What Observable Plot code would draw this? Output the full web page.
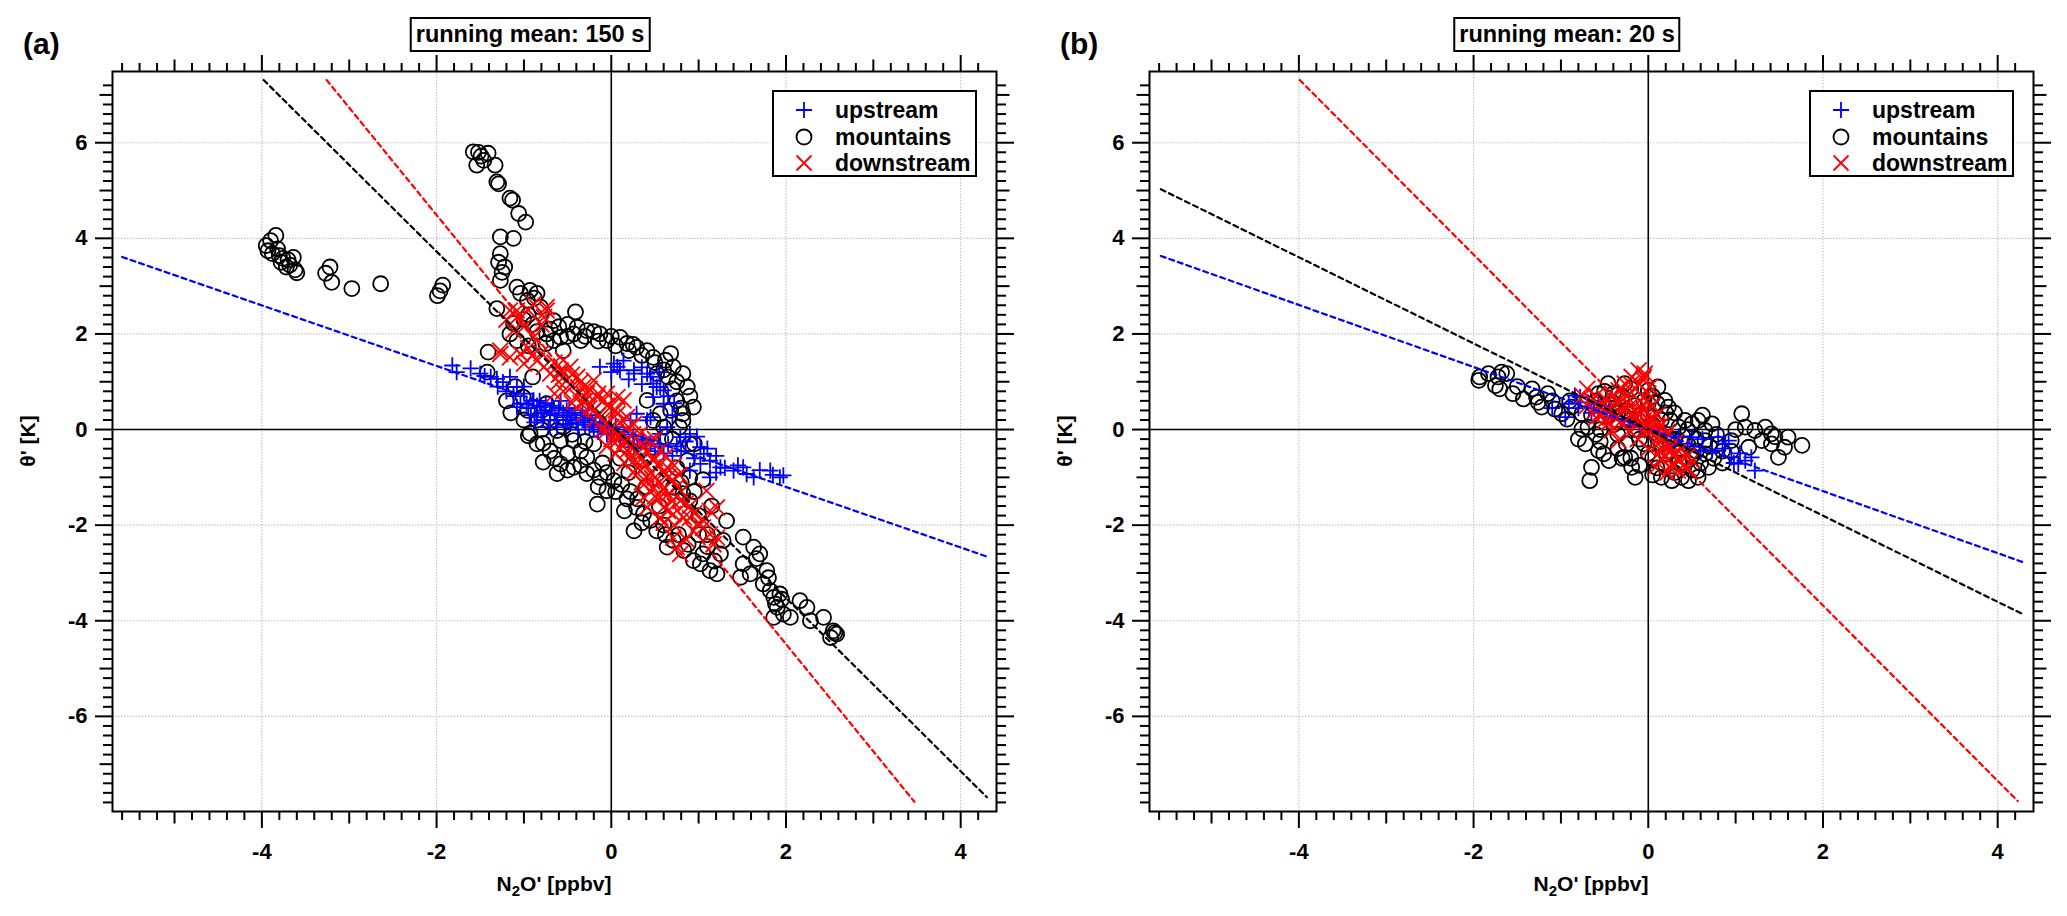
<!DOCTYPE html>
<html>
<head>
<meta charset="utf-8">
<script src="https://cdn.jsdelivr.net/npm/d3@7"></script>
<script src="https://cdn.jsdelivr.net/npm/@observablehq/plot@0.6"></script>
<style>
  body { margin: 0; background: white; }
  #wrap { position: relative; width: 2067px; height: 916px; font-family: "Liberation Sans", Arial, sans-serif; font-weight: bold; color: black; }
  .abs { position: absolute; }
  .panel { position: absolute; top: 0; }
  .tag { font-size: 30px; line-height: 30px; }
  .title { font-size: 23.5px; line-height: 31px; border: 2px solid black; padding: 0 4px; background: white; transform: translateX(-50%); white-space: nowrap; }
  .xlab { font-size: 21px; transform: translateX(-50%); white-space: nowrap; }
  .ylab { font-size: 21px; transform: translate(-50%, -50%) rotate(-90deg); white-space: nowrap; }
  .legend { border: 2px solid black; background: white; width: 201px; height: 83px; }
  .legend .row { position: absolute; left: 0; height: 26px; width: 200px; font-size: 23px; line-height: 26px; }
  .legend svg { position: absolute; left: 17px; top: 3px; }
  .legend span { position: absolute; left: 61px; }
</style>
</head>
<body>
<div id="wrap"></div>
<script>
// panel (a): running mean 150 s
const aUp = [
  [-1.82,1.34],[-1.77,1.2],[-1.61,1.28],[-1.5,1.17],[-1.45,1.12],[-1.38,1.1],[-1.31,1.06],[-1.24,0.99],[-1.16,1.1],[-1.08,0.89],
  [-1.0,0.75],[-1.04,0.54],[-1.08,0.47],[-0.89,0.61],[-0.81,0.47],[-0.85,0.26],[-0.7,0.33],[-0.55,0.26],[-0.62,0.05],[-0.47,0.12],
  [-0.97,0.54],[-0.77,0.4],[-0.7,0.19],[-0.51,0.4],[-0.32,0.19],[-0.13,0.05],
  [-0.9,0.6],[-0.85,0.5],[-0.8,0.35],[-0.75,0.55],[-0.7,0.4],[-0.65,0.3],[-0.6,0.45],[-0.55,0.35],[-0.5,0.2],[-0.45,0.3],
  [-0.4,0.15],[-0.35,0.25],[-0.3,0.1],[-0.25,0.05],[-0.2,0.0],[-0.15,-0.05],[0.0,-0.1],[0.1,-0.2],[0.2,-0.3],[0.3,-0.35],
  [0.4,-0.4],[0.5,-0.45],[0.6,-0.5],[0.7,-0.55],
  [-0.95,0.45],[-0.92,0.3],[-0.88,0.15],[-0.82,0.6],[-0.78,0.2],[-0.72,0.05],[-0.68,0.5],[-0.62,0.2],[-0.58,0.6],[-0.52,0.1],
  [-0.48,0.45],[-0.42,0.35],[-0.38,0.0],[-0.33,0.4],[-0.27,0.3],[-0.22,0.15],[-0.18,0.25],[-0.1,0.1],[-0.05,0.0],[0.05,0.05],
  [0.15,-0.1],[0.25,-0.15],[0.35,-0.2],[0.45,-0.3],[0.55,-0.35],[0.65,-0.3],[0.75,-0.35],[0.85,-0.25],
  [-1.2,0.8],[-1.3,0.9],[-1.12,0.7],[-1.0,0.9],
  [-0.13,1.31],[0.03,1.38],[0.14,1.44],[0.1,1.24],[0.26,1.17],[0.41,1.17],[0.48,0.96],[0.56,0.89],[0.6,0.82],[0.48,0.68],
  [0.29,0.33],[0.41,0.19],[0.22,0.19],[0.1,-0.23],[-0.05,-0.09],[0.07,1.31],[0.26,1.24],[0.45,1.1],[0.52,0.89],[0.6,0.54],
  [0.45,0.26],[0.56,-0.09],[0.37,-0.23],[-0.01,-0.09],[0.26,-0.37],
  [0.7,0.3],[0.72,0.55],[0.65,0.7],[0.35,0.95],[0.2,1.05],[0.0,1.2],[0.35,1.3],[0.55,1.2],
  [0.64,0.05],[0.79,-0.16],[0.9,-0.09],[1.02,-0.37],[1.06,-0.51],[1.02,-0.72],[1.13,-0.65],[1.25,-0.79],[0.9,-0.86],[1.13,-1.0],
  [1.51,-0.79],[1.55,-0.93],[1.63,-1.0],[1.82,-0.86],[1.93,-1.0],[1.97,-0.96],[1.4,-0.86],[0.95,-0.6],[1.2,-0.9],[0.8,-0.45],
  [1.1,-0.4],[1.2,-0.55],[0.98,-0.15],[1.3,-0.8],[1.45,-0.75],[1.7,-0.85],[1.85,-0.95]
];
const aMnt = [
  [-3.95,3.85],[-3.9,3.95],[-3.84,4.06],[-3.93,3.74],[-3.88,3.68],[-3.8,3.64],[-3.76,3.58],[-3.7,3.55],[-3.78,3.5],[-3.68,3.44],
  [-3.64,3.6],[-3.72,3.4],[-3.62,3.34],[-3.6,3.28],[-3.82,3.78],
  [-3.27,3.27],[-3.22,3.4],[-3.2,3.08],[-2.97,2.95],[-2.64,3.05],[-1.99,2.8],[-1.96,2.9],[-1.93,3.02],
  [-1.58,5.81],[-1.52,5.8],[-1.41,5.78],[-1.54,5.53],[-1.46,5.63],[-1.49,5.72],[-1.33,5.53],[-1.31,5.18],[-1.29,5.14],[-1.16,4.84],
  [-1.13,4.8],[-1.06,4.52],[-0.98,4.34],[-1.27,4.03],[-1.12,4.0],[-1.27,3.68],[-1.29,3.5],[-1.25,3.29],[-1.27,3.12],[-1.22,3.4],
  [-1.31,2.53],[-1.08,2.98],[-0.93,2.91],[-0.85,2.85],[-1.04,2.85],[-0.96,2.7],[-0.88,2.75],
  [-0.81,2.56],[-0.74,2.0],[-0.66,2.28],[-0.58,1.93],[-0.41,2.46],[-0.39,2.14],[-0.28,2.07],[-0.13,2.0],[-0.05,1.86],[0.1,1.93],
  [0.18,1.8],[0.29,1.72],[0.41,1.65],[0.48,1.51],[0.68,1.59],[0.71,1.31],[0.82,1.17],[0.87,0.89],[0.94,0.47],[0.82,0.33],
  [0.52,1.17],[0.56,0.33],[0.48,0.19],[0.41,0.61],[-0.43,2.0],[-0.35,1.86],[-0.55,1.65],[-0.66,1.86],[0.0,1.95],[0.25,1.78],
  [0.62,1.45],[0.75,1.0],[0.9,0.7],[-0.2,2.05],[-0.5,1.95],
  [-0.7,2.1],[-0.6,2.15],[-0.5,2.2],[-0.3,1.95],[-0.15,1.85],[0.05,1.75],[0.2,1.65],[0.35,1.55],[0.5,1.4],[0.6,1.25],
  [0.65,1.1],[0.7,0.85],[0.75,0.6],[0.8,0.45],[0.68,0.4],[-0.9,2.2],[-0.95,2.4],[-1.0,2.3],[-0.85,2.05],[-0.75,1.8],[-0.95,1.75],
  [-1.41,1.62],[-1.42,1.2],[-1.16,2.0],[-1.12,2.22],[-1.08,1.86],[-1.01,0.68],[-0.96,0.4],[-0.74,0.54],[-0.93,-0.08],[-0.62,-0.02],
  [-0.58,-0.23],[-1.1,0.9],[-0.9,1.1],[-0.85,0.2],
  [-1.2,0.6],[-1.15,0.35],[-1.0,0.2],[-0.8,0.0],[-0.7,0.15],[-0.55,0.05],[-0.45,-0.1],[-0.3,-0.25],
  [-0.95,-0.13],[-0.78,-0.29],[-0.78,-0.68],[-0.62,-0.92],[-0.58,-0.72],[-0.43,-0.23],[-0.43,-0.79],[-0.28,-0.58],[-0.28,-0.92],[-0.16,-1.56],
  [-0.05,-1.28],[-0.13,-1.0],[0.03,-1.07],[0.18,-1.45],[0.29,-1.63],[0.26,-2.12],[0.37,-1.76],[0.52,-2.12],[0.64,-2.46],[0.71,-2.32],
  [0.83,-2.53],[0.94,-2.74],[1.02,-2.81],[1.13,-2.95],[1.21,-3.02],[1.25,-2.6],[1.28,-2.32],[1.32,-1.91],[0.9,-1.49],[0.82,-1.34],
  [0.71,-1.21],[0.87,-0.65],[0.48,-0.37],[0.6,0.05],[0.82,0.19],[0.7,-0.2],[0.95,-0.3],[0.9,-1.0],[0.75,-0.8],[0.1,-0.6],
  [0.2,-0.9],[-0.2,-0.3],[-0.1,-0.7],[0.4,-1.2],[0.55,-1.6],[1.0,-1.8],[1.1,-2.2],
  [-0.85,-0.3],[-0.7,-0.45],[-0.65,-0.6],[-0.5,-0.5],[-0.5,-0.85],[-0.35,-0.45],[-0.35,-0.75],[-0.2,-0.85],[-0.15,-1.2],[-0.05,-0.9],
  [0.05,-1.3],[0.12,-1.15],[0.22,-1.3],[0.3,-1.45],[0.15,-1.7],[0.35,-1.95],[0.45,-1.9],[0.6,-2.0],[0.62,-2.2],[0.77,-2.2],
  [0.88,-2.4],[1.05,-2.6],[1.18,-2.75],[1.1,-2.45],[1.0,-2.2],[1.15,-1.6],[0.95,-1.3],[1.05,-1.05],[0.8,-1.1],[0.9,-0.3],
  [0.78,0.05],[0.62,-0.15],
  [1.51,-2.25],[1.63,-2.46],[1.7,-2.6],[1.51,-2.81],[1.59,-3.02],[1.48,-3.09],[1.74,-3.23],[1.78,-2.95],[1.82,-3.37],[1.86,-3.51],
  [1.93,-3.44],[1.9,-3.72],[1.97,-3.86],[1.86,-3.93],[2.05,-3.93],[2.16,-3.58],[2.24,-3.72],[2.28,-4.0],[2.43,-3.93],[2.54,-4.21],
  [2.58,-4.28],[2.56,-4.25],[2.51,-4.35],[1.88,-3.65],[1.95,-3.55],[1.8,-3.1],[1.66,-2.7]
];
const aDown = [
  [-1.16,2.49],[-1.08,2.35],[-0.89,2.63],[-0.74,2.56],[-0.77,2.35],[-1.12,2.07],[-0.89,1.93],[-1.27,1.65],[-1.16,1.51],[-1.04,1.58],
  [-1.0,1.38],[-0.85,1.44],[-0.77,1.31],[-0.7,1.17],[-0.58,1.24],[-0.47,1.31],[-0.51,1.03],[-0.39,1.1],[-0.32,0.89],[-0.28,0.75],
  [-0.16,0.68],[-0.09,0.61],[-0.01,0.47],[0.07,0.33],[0.14,0.61],[0.18,0.26],[0.26,0.12],[0.33,-0.09],[0.45,-0.23],[0.56,-0.44],
  [-1.08,2.49],[-0.74,2.49],[-1.27,1.58],[-1.04,1.58],[-0.58,1.17],[-0.2,1.03],[-0.05,0.75],[0.07,0.68],
  [-0.05,-0.02],[0.07,-0.23],[0.18,-0.44],[0.26,-0.65],[0.33,-0.86],[0.41,-1.0],[0.48,-1.21],[0.56,-1.42],[0.6,-1.63],[0.56,-1.84],
  [0.71,-1.77],[0.37,-1.42],[0.41,-1.63],[0.64,-0.79],[0.48,-0.65],[0.79,-1.49],[0.83,-1.84],[1.09,-1.28],[1.13,-1.7],[1.21,-1.63],
  [1.06,-1.91],[1.13,-2.19],[1.21,-2.26],[1.17,-2.4],[0.94,-2.12],[0.75,-2.46],[0.79,-2.6],[0.71,-2.26],[0.86,-2.3],
  [-0.6,1.0],[-0.55,0.8],[-0.45,0.9],[-0.4,0.7],[-0.35,0.55],[-0.3,0.6],[-0.25,0.45],[-0.2,0.4],[-0.15,0.3],[-0.1,0.2],
  [-0.05,0.15],[0.0,0.05],[0.05,-0.05],[0.1,-0.1],[0.15,-0.25],[0.2,-0.2],[0.25,-0.4],[0.3,-0.5],[0.35,-0.6],[0.4,-0.75],
  [0.45,-0.9],[0.5,-1.0],[0.55,-1.1],[0.6,-1.25],[0.65,-1.35],[0.7,-1.5],[0.3,-0.8],[0.4,-1.1],[0.5,-1.4],[0.2,-0.6],
  [0.1,-0.4],[0.0,-0.2],[-0.1,0.0],[-0.2,0.2],[-0.3,0.35],[-0.45,0.55],[-0.65,0.75],[0.65,-1.0],[0.75,-1.2],[0.9,-1.6],
  [-1.2,2.3],[-1.0,2.15],[-0.95,2.5],[-0.8,2.2],[-0.95,1.7],[-0.9,1.55],[-0.8,1.6],[-0.65,1.4],[-0.55,1.45],[-0.6,1.15],
  [-0.45,1.15],[-0.35,1.0],[-0.25,0.85],[-0.15,0.75],[-0.05,0.5],[0.05,0.4],[0.1,0.15],[0.2,0.05],[0.25,-0.1],[0.35,-0.3],
  [0.4,-0.45],[0.5,-0.6],[0.55,-0.75],[0.6,-0.9],[0.7,-1.05],[0.8,-1.3],[0.85,-1.55],[0.95,-1.75],[1.0,-1.95],[1.05,-2.05],
  [0.9,-1.85],[0.65,-1.7],[0.6,-1.95],[0.72,-2.0],[0.45,-1.3],[0.35,-1.1],[0.25,-0.9],[0.15,-0.7],[0.05,-0.5],[-0.05,-0.35],
  [0.5,-0.2],[0.62,-0.55],[0.72,-0.75],[0.78,-0.95]
];
// fitted lines: slope, intercept, x start, x end
const aFitUp = [-0.633, 0.065, -5.6, 4.33];
const aFitMnt = [-1.812, 0.10, -3.98, 4.30];
const aFitDown = [-2.244, 0.0, -3.26, 3.47];

// panel (b): running mean 20 s
const bUp = [
  [-0.84,0.71],[-0.78,0.68],[-0.91,0.54],[-0.69,0.57],[-0.95,0.26],[-0.57,0.54],[-0.42,0.26],[-0.62,0.45],[-0.5,0.35],[-0.3,0.2],
  [-0.2,0.1],[-0.1,0.05],[0.05,-0.05],[0.2,-0.1],[0.35,-0.15],[0.5,-0.16],[0.62,-0.2],[0.8,-0.16],[0.88,-0.3],[0.95,-0.58],
  [1.03,-0.72],[1.11,-0.65],[1.18,-0.58],[1.22,-0.86],[0.92,-0.23],[0.98,-0.7],[0.73,-0.44],[0.85,-0.4],[1.05,-0.5],[-1.1,0.45],
  [-0.8,0.45],[-0.65,0.35],[-0.45,0.5],[0.3,-0.3],[0.45,-0.35],[0.6,-0.45]
];
const bMnt = [
  [-1.93,1.1],[-1.83,1.17],[-1.72,1.1],[-1.68,1.2],[-1.62,1.17],[-1.75,0.92],[-1.7,0.85],[-1.94,1.03],[-1.43,0.64],[-1.28,0.68],
  [-1.26,0.57],[-1.22,0.47],[-1.33,0.85],[-1.07,0.43],[-0.99,0.33],[-0.93,0.22],[-0.88,0.47],[-0.76,0.33],[-0.76,0.01],[-0.69,0.05],
  [-0.72,-0.3],[-0.65,-0.79],[-0.67,-1.07],[-0.57,-0.44],[-0.51,-0.51],[-0.46,0.96],[-0.57,0.75],[-0.27,0.96],[-0.27,-0.58],[-0.19,-0.79],
  [-0.1,-0.75],[0.0,0.82],[0.11,0.89],[0.19,0.61],[0.23,0.47],[0.27,-1.07],[0.38,-1.0],[0.46,-1.07],[0.42,0.19],[0.5,0.12],
  [0.57,0.19],[0.65,-0.02],[0.73,0.12],[0.65,-0.23],[0.65,-0.51],[0.69,-0.79],[0.57,-0.86],[0.57,-1.0],[0.8,-0.3],[0.95,-0.23],
  [1.07,0.33],[1.11,0.05],[1.15,-0.37],[1.22,-0.02],[1.3,-0.23],[1.34,0.05],[1.41,-0.09],[1.45,-0.15],[1.49,-0.58],[1.6,-0.16],
  [1.56,-0.37],[1.76,-0.33],[1.41,-0.3],
  [-0.6,0.6],[-0.5,0.5],[-0.45,0.3],[-0.4,0.1],[-0.35,-0.1],[-0.3,0.7],[-0.25,0.4],[-0.2,0.2],[-0.15,0.0],[-0.1,-0.2],
  [-0.05,0.6],[0.0,0.3],[0.05,0.1],[0.1,-0.1],[0.15,-0.3],[0.2,-0.5],[0.25,0.2],[0.3,-0.2],[0.35,-0.45],[0.4,-0.7],
  [0.45,-0.3],[0.5,-0.55],[0.55,-0.2],[-0.35,-0.4],[-0.2,-0.6],[0.0,-0.5],[0.1,-0.8],[0.3,-0.9],[-0.55,0.0],[-0.4,0.55],
  [0.05,0.7],[0.2,0.35],[0.35,0.05],[0.75,-0.6],[0.85,-0.45],
  [-0.65,0.3],[-0.6,-0.1],[-0.55,-0.25],[-0.5,0.8],[-0.45,-0.65],[-0.4,0.75],[-0.35,0.35],[-0.3,-0.6],[-0.25,-0.3],[-0.2,0.85],
  [-0.15,0.5],[-0.1,0.3],[-0.05,-0.3],[0.0,0.55],[0.05,-0.6],[0.1,0.55],[0.15,0.2],[0.2,-0.75],[0.25,-0.25],[0.3,0.35],
  [0.35,-0.7],[0.4,-0.15],[0.45,0.0],[0.5,-0.85],[0.55,-0.45],[0.6,-0.7],[0.62,0.3],[0.7,-0.35],[0.78,-0.1],[0.85,-0.7],
  [0.95,-0.45],[1.0,0.0],[-0.8,-0.2],[-0.9,0.6],[-1.1,0.6],[-1.15,0.75],[-1.5,0.9],[-1.55,0.75],[-0.15,-1.0],[0.05,-0.95],[0.15,-1.0]
];
const bDown = [
  [-0.11,1.24],[-0.04,1.17],[-0.19,1.1],[-0.06,1.05],[-0.27,0.96],[-0.34,0.82],[-0.42,0.68],[-0.65,0.61],[-0.61,0.4],[-0.5,0.19],
  [-0.42,-0.02],[-0.34,-0.23],[-0.55,0.5],[-0.45,0.45],[-0.35,0.6],[-0.3,0.4],[-0.25,0.7],[-0.2,0.5],[-0.15,0.85],[-0.1,0.6],
  [-0.05,0.4],[0.0,0.75],[0.0,0.2],[0.04,-0.02],[0.05,0.5],[0.1,0.3],[0.11,-0.3],[0.15,0.1],[0.19,-0.58],[0.2,-0.15],
  [0.25,-0.35],[0.27,-0.72],[0.3,-0.5],[0.34,-0.86],[0.42,-0.79],[0.5,-0.65],[0.08,-0.79],[0.38,-0.4],[0.45,-0.55],[-0.25,0.2],
  [-0.15,0.25],[-0.05,0.0],[0.1,-0.05],[-0.2,-0.05],[-0.3,0.1],[-0.4,0.3],[-0.55,0.3],[-0.7,0.5],[-0.75,0.7],[-0.1,0.95],
  [0.15,-0.45],[0.22,-0.9],[0.0,-0.4],[-0.12,-0.2],
  [-0.7,0.85],[-0.6,0.7],[-0.5,0.65],[-0.45,0.15],[-0.4,0.5],[-0.35,0.25],[-0.3,0.85],[-0.25,0.55],[-0.2,0.3],[-0.15,0.1],
  [-0.1,0.4],[-0.05,0.2],[0.0,0.0],[0.05,0.25],[0.1,0.1],[0.12,-0.15],[0.18,-0.35],[0.22,-0.05],[0.28,-0.55],[0.32,-0.25],
  [0.36,-0.65],[0.4,-0.55],[0.45,-0.8],[-0.2,0.95],[-0.05,1.1],[0.02,0.9],[-0.02,0.6],[-0.5,0.35],[-0.6,0.25],[0.15,-0.6],[0.25,-0.8]
];
const bFitUp = [-0.649, 0.01, -5.58, 4.30];
const bFitMnt = [-0.901, 0.0, -5.58, 4.28];
const bFitDown = [-1.835, -0.01, -3.99, 4.23];

const seriesNames = ["upstream", "mountains", "downstream"];
const seriesColors = ["#0000ff", "#000000", "#ff0000"];
const titles = ["running mean: 150 s", "running mean: 20 s"];
const tags = ["(a)", "(b)"];

const xMajor = [-4, -2, 0, 2, 4];
const xMedium = [-5, -3, -1, 1, 3];
const xMinor = d3.range(-28, 22).map(i => i / 5).filter(v => !Number.isInteger(v));
const yMajor = [-6, -4, -2, 0, 2, 4, 6];
const yMedium = [-7, -5, -3, -1, 1, 3, 5, 7];
const yMinor = d3.range(-39, 37).map(i => i / 5).filter(v => !Number.isInteger(v));
const xGrid = [-4, -2, 2, 4];
const yGrid = [-6, -4, -2, 2, 4, 6];

function fitLine(f) {
  return [{x: f[2], y: f[1] + f[0] * f[2]}, {x: f[3], y: f[1] + f[0] * f[3]}];
}

function axes(anchor, major, medium, minor, labels) {
  const ax = anchor == "bottom" || anchor == "top" ? Plot.axisX : Plot.axisY;
  const none = () => "";
  return [
    ax(minor, {anchor, tickSize: 9, tickFormat: none, label: null, strokeWidth: 2}),
    ax(medium, {anchor, tickSize: 12.5, tickFormat: none, label: null, strokeWidth: 2}),
    ax(major, {
      anchor, tickSize: 17, label: null, strokeWidth: 2,
      tickPadding: anchor == "bottom" ? 15 : 8,
      tickFormat: labels ? d => String(d) : none,
      fontSize: 22, fontWeight: "bold"
    })
  ];
}

function panel(up, mnt, down, fits, width, marginLeft, marginRight) {
  return Plot.plot({
    width: width,
    height: 916,
    marginLeft: marginLeft,
    marginRight: marginRight,
    marginTop: 71,
    marginBottom: 105,
    x: {domain: [-5.71, 4.41]},
    y: {domain: [-7.99, 7.49]},
    style: {fontFamily: "Liberation Sans, Arial, sans-serif", fontWeight: "bold", fontSize: "22px", background: "none", overflow: "visible"},
    marks: [
      Plot.gridX(xGrid, {stroke: "#c4c4c4", strokeOpacity: 1, strokeDasharray: "1.5,1.5", strokeWidth: 1.2}),
      Plot.gridY(yGrid, {stroke: "#c4c4c4", strokeOpacity: 1, strokeDasharray: "1.5,1.5", strokeWidth: 1.2}),
      Plot.ruleX([0], {stroke: "black", strokeWidth: 1.6}),
      Plot.ruleY([0], {stroke: "black", strokeWidth: 1.6}),
      Plot.dot(mnt, {x: d => d[0], y: d => d[1], symbol: "circle", r: 7.5, fill: "none", stroke: seriesColors[1], strokeWidth: 1.8}),
      Plot.dot(up, {x: d => d[0], y: d => d[1], symbol: "plus", r: 5.3, fill: "none", stroke: seriesColors[0], strokeWidth: 1.8}),
      Plot.dot(down, {x: d => d[0], y: d => d[1], symbol: "times", r: 7.3, fill: "none", stroke: seriesColors[2], strokeWidth: 1.8}),
      ...fits.map((f, i) => Plot.line(fitLine(f), {x: "x", y: "y", stroke: seriesColors[i], strokeWidth: 2.2, strokeDasharray: "5,4"})),
      Plot.frame({stroke: "black", strokeWidth: 2}),
      ...axes("bottom", xMajor, xMedium, xMinor, true),
      ...axes("top", xMajor, xMedium, xMinor, false),
      ...axes("left", yMajor, yMedium, yMinor, true),
      ...axes("right", yMajor, yMedium, yMinor, false)
    ]
  });
}

function symbolSvg(i) {
  const s = d3.create("svg").attr("width", 26).attr("height", 20);
  const g = s.append("g").attr("transform", "translate(13,10)").attr("fill", "none")
    .attr("stroke", seriesColors[i]).attr("stroke-width", 1.8);
  if (i == 0) g.append("path").attr("d", "M-8,0H8M0,-8V8");
  if (i == 1) g.append("circle").attr("r", 7.5);
  if (i == 2) g.append("path").attr("d", "M-7.5,-7.5L7.5,7.5M-7.5,7.5L7.5,-7.5");
  return s.node();
}

const wrap = d3.select("#wrap");
const layout = [
  {left: 0, width: 1034, ml: 112, mr: 38, data: [aUp, aMnt, aDown], fits: [aFitUp, aFitMnt, aFitDown]},
  {left: 1034, width: 1033, ml: 115, mr: 34, data: [bUp, bMnt, bDown], fits: [bFitUp, bFitMnt, bFitDown]}
];

layout.forEach((p, k) => {
  const chart = panel(p.data[0], p.data[1], p.data[2], p.fits, p.width, p.ml, p.mr);
  wrap.append("div").attr("class", "panel").style("left", p.left + "px").append(() => chart);
  const fl = p.left + p.ml;
  const fr = p.left + p.width - p.mr;
  wrap.append("div").attr("class", "abs tag").style("left", (fl - 89) + "px").style("top", "29px").text(tags[k]);
  wrap.append("div").attr("class", "abs title").style("left", (fl + 418) + "px").style("top", "17px").text(titles[k]);
  wrap.append("div").attr("class", "abs xlab").style("left", ((fl + fr) / 2) + "px").style("top", "872px")
    .html("N<sub style='font-size:15px'>2</sub>O' [ppbv]");
  wrap.append("div").attr("class", "abs ylab").style("left", (fl - 84) + "px").style("top", "441px").text("θ' [K]");
  const lg = wrap.append("div").attr("class", "abs legend").style("left", (fr - 224) + "px").style("top", "90px");
  seriesNames.forEach((name, i) => {
    const row = lg.append("div").attr("class", "row").style("top", (5 + i * 26.5) + "px");
    row.append(() => symbolSvg(i));
    row.append("span").text(name);
  });
});
</script>
</body>
</html>
